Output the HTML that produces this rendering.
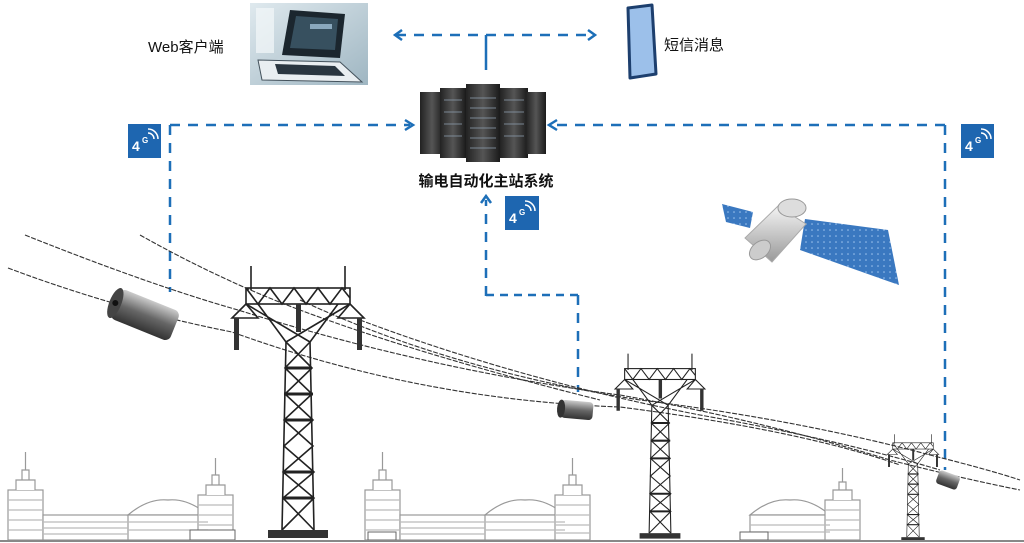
<!DOCTYPE html>
<html><head><meta charset="utf-8"><style>
html,body{margin:0;padding:0;background:#fff}
svg{display:block}
text{font-family:"Liberation Sans","Noto Sans CJK SC",sans-serif}
</style></head><body>
<svg width="1024" height="543" viewBox="0 0 1024 543" xmlns="http://www.w3.org/2000/svg">
<defs>
<linearGradient id="lap" x1="0" y1="0" x2="1" y2="1"><stop offset="0" stop-color="#dfe9ee"/><stop offset="1" stop-color="#9fb6c2"/></linearGradient>
<linearGradient id="rack" x1="0" y1="0" x2="1" y2="0"><stop offset="0" stop-color="#222"/><stop offset=".5" stop-color="#555"/><stop offset="1" stop-color="#1a1a1a"/></linearGradient>
<linearGradient id="cyl" x1="0" y1="0" x2="0" y2="1"><stop offset="0" stop-color="#ccc"/><stop offset=".5" stop-color="#666"/><stop offset="1" stop-color="#333"/></linearGradient>
<linearGradient id="silver" x1="0" y1="0" x2="0" y2="1"><stop offset="0" stop-color="#f4f4f4"/><stop offset="1" stop-color="#999"/></linearGradient>
<pattern id="sol" width="6" height="6" patternUnits="userSpaceOnUse"><rect width="6" height="6" fill="#3a78c0"/><circle cx="2" cy="2" r=".8" fill="#9fc4ee"/></pattern>
<g id="tower" stroke="#222" fill="none" stroke-width="1.6">
<line x1="-47" y1="-2" x2="-47" y2="22"/><line x1="47" y1="-2" x2="47" y2="22"/>
<rect x="-52" y="20" width="104" height="16"/>
<path d="M-52 20 L-40 36 L-28 20 L-16 36 L-4 20 L8 36 L20 20 L32 36 L44 20 L52 30"/>
<path d="M-52 36 L-66 50 L-40 50 Z M52 36 L66 50 L40 50 Z"/>
<path d="M-40 36 L-12 74 M40 36 L12 74 M-52 36 L12 74 M52 36 L-12 74"/>
<path d="M-12 74 L-16 262 M12 74 L16 262"/>
<path d="M-12 74 L14 100 L-13 126 L15 152 L-14 178 L16 204 L-15 230 L16 262 M12 74 L-13 100 L14 126 L-14 152 L15 178 L-15 204 L16 230 L-16 262"/>
<path d="M-13 100 H14 M-14 126 H15 M-14 152 H15 M-15 204 H16 M-15 230 H16" stroke-width="3"/>
<rect x="-64" y="50" width="5" height="32" fill="#333" stroke="none"/>
<rect x="59" y="50" width="5" height="32" fill="#333" stroke="none"/>
<rect x="-2" y="36" width="5" height="28" fill="#333" stroke="none"/>
<rect x="-30" y="262" width="60" height="8" fill="#333" stroke="none"/>
</g>
<g id="bldg" stroke="#999" fill="#fff" stroke-width="1.2">
<rect x="0" y="20" width="35" height="50"/><path d="M8 20 V10 H27 V20 M14 10 V0 H21 V10 M17.5 0 V-18"/>
<rect x="35" y="45" width="135" height="25"/>
<path d="M120 45 Q140 28 160 30 Q180 28 200 45 Z"/>
<rect x="120" y="45" width="80" height="25"/>
<rect x="190" y="25" width="35" height="45"/><path d="M198 25 V15 H217 V25 M204 15 V5 H211 V15 M207.5 5 V-12"/>
<path d="M0 30 H35 M0 40 H35 M0 50 H35 M0 60 H35 M35 52 H120 M35 58 H120 M35 64 H120 M120 52 H200 M120 60 H200 M190 35 H225 M190 45 H225 M190 55 H225 M190 63 H225" stroke="#bbb"/>
</g>
</defs>

<!-- laptop -->
<rect x="250" y="3" width="118" height="82" fill="url(#lap)"/>
<rect x="256" y="8" width="18" height="45" fill="#f4f8fa" opacity=".7"/>
<path d="M290 10 L345 14 L340 58 L282 55 Z" fill="#1b262e"/>
<path d="M296 16 L338 19 L335 50 L290 48 Z" fill="#37505f"/>
<rect x="310" y="24" width="22" height="5" fill="#8aa8bd"/>
<path d="M258 60 L340 62 L362 82 L262 80 Z" fill="#e9eef1" stroke="#44525c" stroke-width="1"/>
<path d="M275 64 L335 66 L345 76 L278 74 Z" fill="#2a3640"/>
<text x="148" y="52" font-size="15" fill="#111">Web客户端</text>

<!-- phone -->
<path d="M628 8 L652 5 L656 74 L630 78 Z" fill="#9cc0ea" stroke="#1d3f6e" stroke-width="3" stroke-linejoin="round"/>
<text x="664" y="50" font-size="15" fill="#111">短信消息</text>

<!-- dashed -->
<g stroke="#1d6fb8" stroke-width="2.5" fill="none">
<line x1="396" y1="35" x2="594" y2="35" stroke-dasharray="10 8"/>
<path d="M402 30 L395 35 L402 40 M588 30 L595 35 L588 40"/>
<line x1="486" y1="35" x2="486" y2="70"/>
<line x1="170" y1="125" x2="410" y2="125" stroke-dasharray="10 8"/>
<path d="M405 120 L413 125 L405 130"/>
<line x1="170" y1="125" x2="170" y2="292" stroke-dasharray="10 8"/>
<line x1="945" y1="125" x2="552" y2="125" stroke-dasharray="10 8"/>
<path d="M557 120 L549 125 L557 130"/>
<line x1="945" y1="125" x2="945" y2="470" stroke-dasharray="10 8"/>
<line x1="486" y1="296" x2="486" y2="200" stroke-dasharray="10 8"/>
<path d="M481 203 L486 196 L491 203"/>
<line x1="486" y1="295" x2="578" y2="295" stroke-dasharray="8 6"/>
<line x1="578" y1="295" x2="578" y2="392" stroke-dasharray="10 8"/>
</g>

<!-- server -->
<g>
<rect x="420" y="92" width="24" height="62" fill="url(#rack)"/>
<rect x="440" y="88" width="26" height="70" fill="url(#rack)"/>
<rect x="466" y="84" width="34" height="78" fill="url(#rack)"/>
<rect x="500" y="88" width="28" height="70" fill="url(#rack)"/>
<rect x="526" y="92" width="20" height="62" fill="url(#rack)"/>
<g stroke="#8a9aaa" stroke-width="1" opacity=".8">
<path d="M470 98 H496 M470 108 H496 M470 118 H496 M470 128 H496 M470 138 H496 M470 148 H496 M444 100 H462 M444 112 H462 M444 124 H462 M444 136 H462 M504 100 H524 M504 112 H524 M504 124 H524 M504 136 H524"/>
</g>
</g>
<text x="486" y="186" font-size="15" font-weight="bold" text-anchor="middle" fill="#111">输电自动化主站系统</text>

<!-- 4G badges -->
<g font-size="14" font-weight="bold" fill="#fff">
<rect x="128" y="124" width="33" height="34" fill="#1e66b0"/><text x="132" y="151">4</text><text x="142" y="143" font-size="8">G</text><path d="M148 133 a6 6 0 0 1 6 6 M148 129 a10 10 0 0 1 10 10" stroke="#fff" fill="none" stroke-width="1.5"/>
<rect x="961" y="124" width="33" height="34" fill="#1e66b0"/><text x="965" y="151">4</text><text x="975" y="143" font-size="8">G</text><path d="M981 133 a6 6 0 0 1 6 6 M981 129 a10 10 0 0 1 10 10" stroke="#fff" fill="none" stroke-width="1.5"/>
<rect x="505" y="196" width="34" height="34" fill="#1e66b0"/><text x="509" y="223">4</text><text x="519" y="215" font-size="8">G</text><path d="M525 205 a6 6 0 0 1 6 6 M525 201 a10 10 0 0 1 10 10" stroke="#fff" fill="none" stroke-width="1.5"/>
</g>

<!-- satellite -->
<g>
<path d="M722 204 L753 212 L750 228 L726 222 Z" fill="url(#sol)"/>
<path d="M805 219 L888 230 L899 285 L800 250 Z" fill="url(#sol)"/>
<path d="M745 238 L778 206 L806 224 L772 262 Z" fill="url(#silver)" stroke="#aaa"/>
<ellipse cx="760" cy="250" rx="12" ry="8" fill="#ccc" stroke="#999" transform="rotate(-40 760 250)"/>
<ellipse cx="792" cy="208" rx="14" ry="9" fill="#ddd" stroke="#999"/>
</g>

<!-- wires -->
<g stroke="#333" stroke-width="1.1" fill="none" stroke-dasharray="5 1.5">
<path d="M25 235 Q150 285 238 310 Q430 370 620 395 Q760 420 890 460 Q960 478 1020 490"/>
<path d="M8 268 Q120 310 232 332 Q420 400 620 407 Q800 430 900 465"/>
<path d="M140 235 Q220 280 300 310 Q420 355 600 400"/>
<path d="M300 300 Q450 370 640 400 Q800 420 930 455 Q990 470 1020 480"/>
<path d="M360 320 Q520 380 700 415 Q840 440 940 470"/>
</g>

<!-- towers -->
<use href="#tower" transform="translate(298,268)"/>
<use href="#tower" transform="translate(660,355) scale(0.68)"/>
<use href="#tower" transform="translate(913,435) scale(0.39)"/>

<!-- cameras -->
<g transform="translate(145,315) rotate(22)"><rect x="-32" y="-16" width="64" height="32" rx="6" fill="url(#cyl)"/><ellipse cx="-32" cy="0" rx="6" ry="16" fill="#444"/><circle cx="-32" cy="0" r="3" fill="#111"/></g>
<g transform="translate(577,410) rotate(5)"><rect x="-16" y="-9" width="32" height="18" rx="4" fill="url(#cyl)"/><ellipse cx="-16" cy="0" rx="4" ry="9" fill="#333"/></g>
<g transform="translate(948,480) rotate(20)"><rect x="-11" y="-7" width="22" height="14" rx="3" fill="url(#cyl)"/></g>

<!-- buildings -->
<use href="#bldg" transform="translate(8,470)"/>
<use href="#bldg" transform="translate(365,470)"/>
<g stroke="#999" fill="#fff" stroke-width="1.2">
<path d="M750 515 Q770 498 790 500 Q810 498 830 515 Z"/>
<rect x="750" y="515" width="80" height="25"/>
<rect x="825" y="500" width="35" height="40"/><path d="M833 500 V490 H852 V500 M839 490 V482 H846 V490 M842.5 482 V468"/>
<path d="M750 525 H830 M750 532 H830 M825 510 H860 M825 520 H860 M825 530 H860" stroke="#bbb"/>
</g>
<rect x="190" y="530" width="45" height="10" fill="#fff" stroke="#666"/>
<rect x="368" y="532" width="28" height="8" fill="#fff" stroke="#666"/>
<rect x="740" y="532" width="28" height="8" fill="#fff" stroke="#666"/>
<line x1="0" y1="541" x2="1024" y2="541" stroke="#888" stroke-width="2"/>
</svg>
</body></html>
